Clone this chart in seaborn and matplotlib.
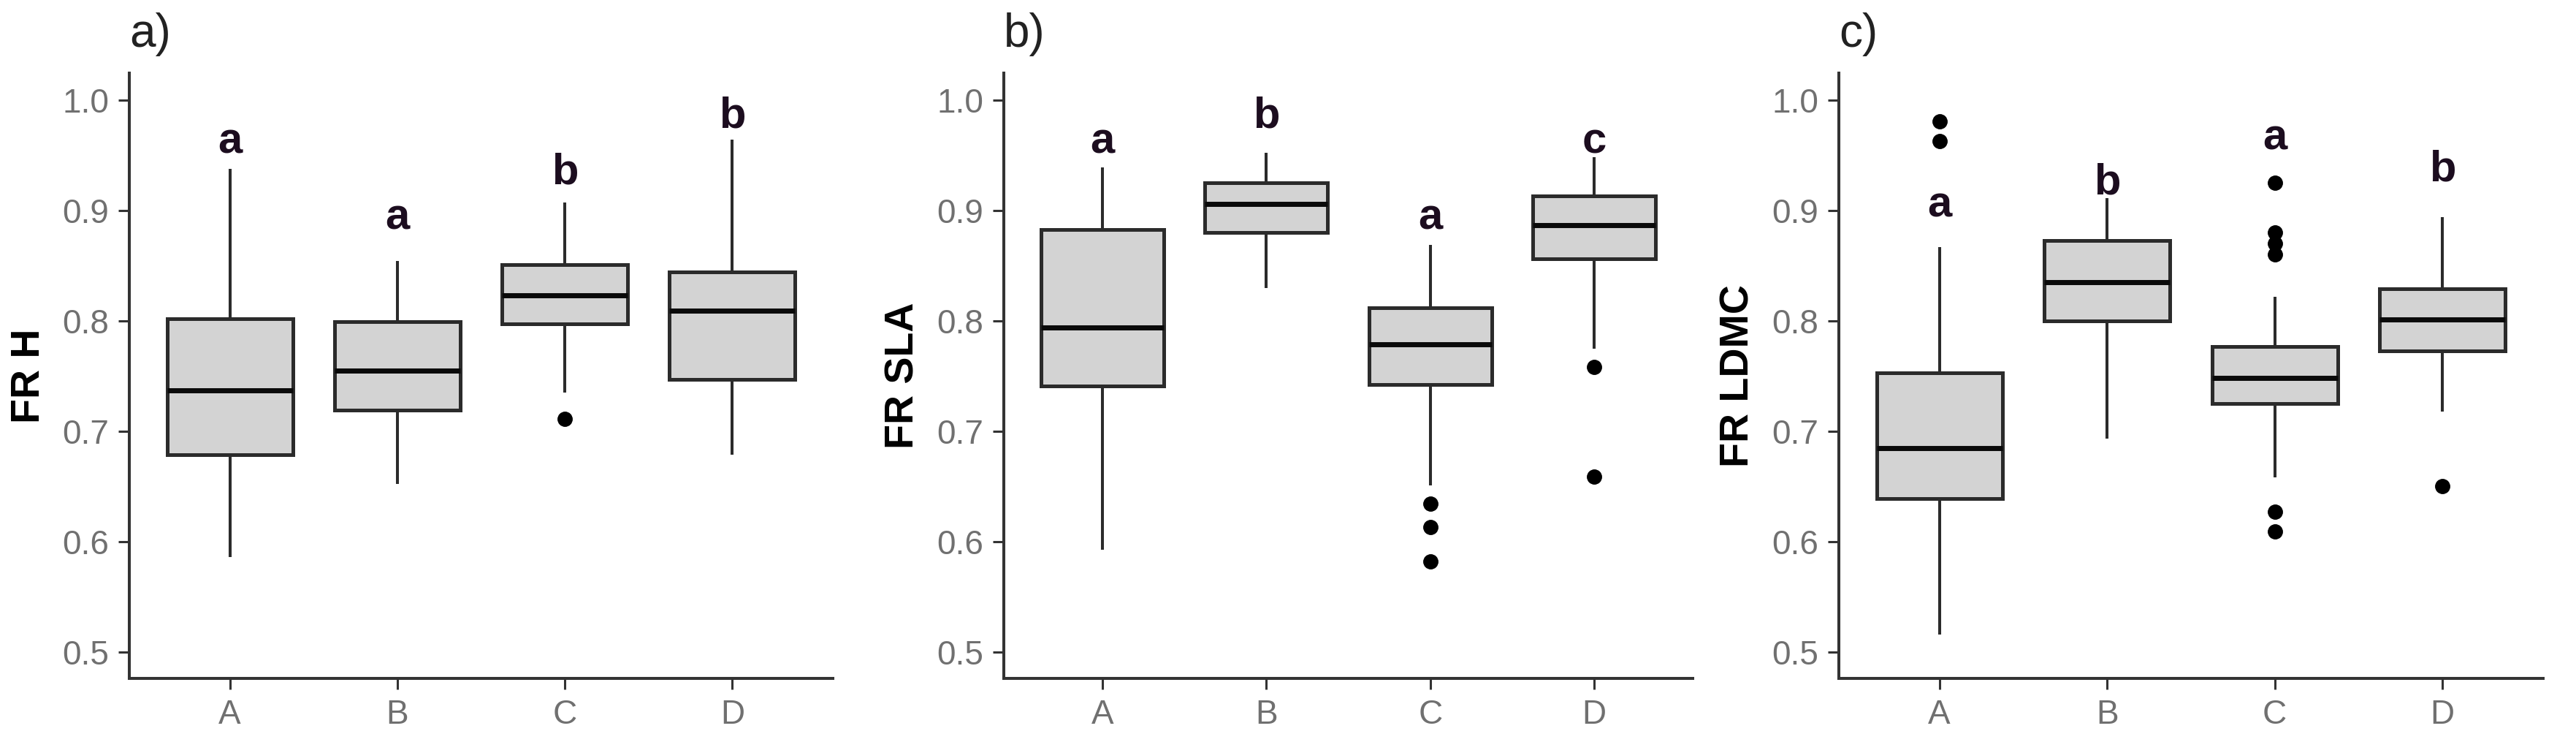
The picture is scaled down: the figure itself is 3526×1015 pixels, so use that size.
import pandas as pd
import matplotlib
matplotlib.use('Agg')
import matplotlib.pyplot as plt
import seaborn as sns

groups = ['A', 'B', 'C', 'D']

# panel a) FR H  -- box stats
h_low = [0.586, 0.652, 0.735, 0.679]
h_q1 = [0.679, 0.719, 0.797, 0.747]
h_med = [0.737, 0.755, 0.823, 0.809]
h_q3 = [0.802, 0.799, 0.851, 0.844]
h_high = [0.938, 0.854, 0.907, 0.964]
h_out = [[], [], [0.711], []]
h_letters = ['a', 'a', 'b', 'b']
h_letter_y = [0.952, 0.883, 0.924, 0.975]

# panel b) FR SLA
sla_low = [0.5925, 0.830, 0.651, 0.775]
sla_q1 = [0.741, 0.880, 0.742, 0.856]
sla_med = [0.794, 0.906, 0.779, 0.887]
sla_q3 = [0.8825, 0.925, 0.812, 0.913]
sla_high = [0.939, 0.952, 0.869, 0.948]
sla_out = [[], [], [0.634, 0.613, 0.582], [0.758, 0.659]]
sla_letters = ['a', 'b', 'a', 'c']
sla_letter_y = [0.952, 0.975, 0.883, 0.952]

# panel c) FR LDMC
ldmc_low = [0.516, 0.693, 0.658, 0.718]
ldmc_q1 = [0.639, 0.800, 0.725, 0.773]
ldmc_med = [0.6845, 0.835, 0.748, 0.801]
ldmc_q3 = [0.753, 0.873, 0.777, 0.829]
ldmc_high = [0.867, 0.911, 0.822, 0.894]
ldmc_out = [[0.981, 0.963], [], [0.925, 0.880, 0.870, 0.860, 0.627, 0.609], [0.650]]
ldmc_letters = ['a', 'b', 'a', 'b']
ldmc_letter_y = [0.894, 0.915, 0.955, 0.927]


def box_table(low, q1, med, q3, high, out):
    # long table whose quartiles / whisker ends land on the read values
    rows = []
    for i, g in enumerate(groups):
        vals = [low[i], high[i]] + [q1[i]] * 20 + [med[i]] * 20 + [q3[i]] * 20 + out[i]
        rows += [(g, v) for v in vals]
    return pd.DataFrame(rows, columns=['group', 'value'])


panels = [
    ('a)', 'FR H', box_table(h_low, h_q1, h_med, h_q3, h_high, h_out), h_letters, h_letter_y),
    ('b)', 'FR SLA', box_table(sla_low, sla_q1, sla_med, sla_q3, sla_high, sla_out), sla_letters, sla_letter_y),
    ('c)', 'FR LDMC', box_table(ldmc_low, ldmc_q1, ldmc_med, ldmc_q3, ldmc_high, ldmc_out), ldmc_letters, ldmc_letter_y),
]

sns.set_theme(style='ticks')
plt.rcParams['font.family'] = ['Liberation Sans', 'DejaVu Sans']

fig = plt.figure(figsize=(35.26, 10.15), dpi=100)
rects = [
    [0.0502, 0.0857, 0.2731, 0.8158],
    [0.3897, 0.0857, 0.2674, 0.8158],
    [0.7138, 0.0857, 0.2734, 0.8158],
]

for rect, (tag, ylab, df, letters, letter_y) in zip(rects, panels):
    ax = fig.add_axes(rect)
    sns.boxplot(data=df, x='group', y='value', order=groups, ax=ax,
                color='#d3d3d3', saturation=1, linecolor='#2b2b2b',
                width=0.75, linewidth=3.6, fliersize=14, showcaps=False,
                medianprops={'color': '#0a0a0a', 'linewidth': 5},
                whiskerprops={'linewidth': 2.9},
                flierprops={'marker': 'o', 'markerfacecolor': 'black',
                            'markeredgecolor': 'black'})
    for i, (lt, ly) in enumerate(zip(letters, letter_y)):
        ax.text(i, ly, lt, ha='center', va='baseline', fontsize=43,
                fontweight='bold', color='#1c0d1f')
    ax.set_ylim(0.476, 1.0245)
    ax.set_xlim(-0.6, 3.6)
    ax.set_yticks([0.5, 0.6, 0.7, 0.8, 0.9, 1.0])
    ax.set_yticklabels(['0.5', '0.6', '0.7', '0.8', '0.9', '1.0'])
    ax.set_xlabel('')
    ax.set_ylabel(ylab, fontsize=40, fontweight='bold', color='black', labelpad=14)
    sns.despine(ax=ax)
    for s in ['left', 'bottom']:
        ax.spines[s].set_linewidth(2.9)
        ax.spines[s].set_color('#333333')
    ax.tick_params(axis='both', labelsize=33, labelcolor='#707070',
                   color='#333333', length=11, width=2.2, pad=9)
    ax.text(0, 1.064, tag, transform=ax.transAxes, ha='left', va='center',
            fontsize=46, color='#222222')

fig.savefig('out.png', dpi=100)
